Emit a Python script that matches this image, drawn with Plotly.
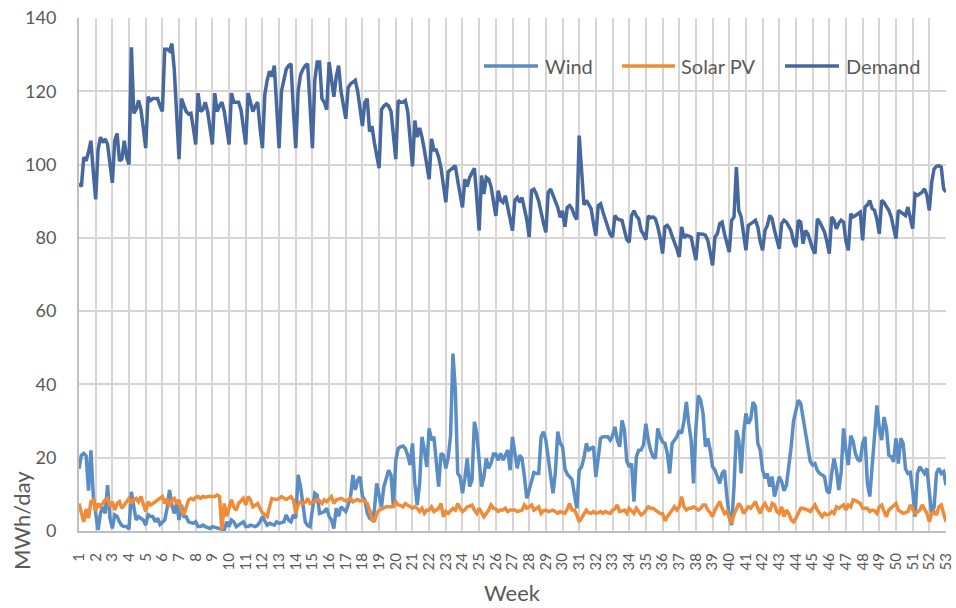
import plotly.graph_objects as go

week_labels = [str(i) for i in range(1, 54)]

# Daily values (MWh/day), one row per week (7 days), last row = final day
demand_rows = [
    [95, 94, 102, 101, 103.5, 106.5, 98],
    [90.5, 104, 107.5, 106, 107, 105.5, 100],
    [95, 106.5, 108.5, 101, 101.5, 106.5, 102],
    [100, 132, 114, 115, 117.5, 115, 110],
    [104.5, 118.5, 117.5, 118, 118, 118, 116],
    [114.5, 131.5, 131.5, 131, 133, 126, 112],
    [101.5, 118, 116, 114.5, 113.8, 114, 110],
    [105.5, 119.5, 114.5, 115, 117, 114.5, 110],
    [105.5, 119.5, 114.5, 116, 117, 114.5, 110],
    [105.5, 119.5, 117, 117, 117, 115, 110],
    [105.5, 119.5, 117, 114.5, 116, 117, 110],
    [104.5, 119, 123, 125.5, 124, 127, 115],
    [104.5, 120, 123.5, 126, 127, 127.5, 115],
    [104.5, 120, 124.5, 126, 127, 127.5, 114],
    [104.5, 123, 128, 128, 118, 117, 115],
    [128, 123, 118.5, 124, 127, 120, 116],
    [112.5, 121, 122, 122.5, 123, 120, 115],
    [110.5, 117, 118, 109, 110.5, 106, 103],
    [99, 115, 116, 116.5, 116, 114.5, 108],
    [101.5, 117.5, 117, 117, 117.5, 114.5, 107],
    [99.5, 112, 107.5, 110, 107.5, 104, 100],
    [96, 107, 104, 104, 102, 99, 95],
    [89.7, 98, 98.5, 99, 99.7, 95.6, 92],
    [88.3, 96, 94, 96.5, 98, 99, 91],
    [82, 97, 92, 96.5, 96, 94, 90],
    [86, 92.9, 90.2, 89.7, 91.5, 88.3, 85],
    [82, 90.2, 91, 89.7, 91, 88, 85],
    [80.2, 92.9, 93.3, 92, 90, 86.5, 84],
    [81.5, 92.4, 93.3, 91.5, 90, 88.3, 85.6],
    [87.4, 83, 88.3, 88.8, 87.9, 86.1, 85],
    [107.9, 98, 89, 90.2, 89.3, 88, 84],
    [80.6, 88.8, 89.3, 87, 85, 82.4, 81],
    [80.2, 86.1, 85.2, 85, 84.7, 82, 79.5],
    [78.8, 86.1, 87.4, 86, 85.2, 82, 81],
    [79.5, 86, 85.5, 85.7, 85.2, 83, 80],
    [75.7, 83, 83.4, 82.5, 80.5, 78.9, 77],
    [74.8, 83, 80, 80.7, 80.5, 80.2, 77],
    [73.9, 81.1, 81.1, 81, 80.7, 79.3, 76],
    [72.5, 80.2, 81.1, 83.9, 84.3, 81.1, 79],
    [76.1, 84.8, 85.7, 99.3, 87.5, 85.7, 81],
    [76.6, 83.4, 84, 84.3, 84.8, 82.9, 79],
    [76.6, 82, 83.4, 86.1, 85.2, 82, 79],
    [77, 83.9, 84.8, 84.3, 83, 82, 79],
    [77.5, 84.8, 84.3, 78.4, 82, 81.1, 79],
    [77, 75.7, 85.2, 84.3, 83, 81.6, 79],
    [75.7, 85.7, 84.8, 82.5, 84, 84.8, 84.3],
    [79, 76.6, 86.6, 85.7, 86.1, 86.5, 87],
    [79.3, 88.4, 89, 90.2, 88, 87.5, 85],
    [81.1, 90.2, 89.7, 88.5, 87.5, 85.7, 83],
    [79.8, 87.5, 87, 86.5, 86.1, 88.4, 85],
    [82.5, 92, 91.6, 92, 92.5, 93.4, 91.6],
    [87.5, 95.2, 98.8, 99.5, 99.7, 99.3, 93.4],
    [92.5],
]

wind_rows = [
    [17, 20.7, 21.2, 20.5, 11, 22, 9.5],
    [4, 0.3, 4.8, 6.6, 4.8, 12.5, 3.5],
    [0.7, 4.4, 4, 2.5, 1.5, 1.2, 1.2],
    [0.5, 10.7, 6.6, 3, 3.9, 3.5, 3],
    [1.6, 4.4, 4, 3.9, 2.5, 3.5, 1.8],
    [2.5, 3, 6.2, 11.2, 7.1, 4.8, 7.5],
    [3, 7.1, 4, 3.9, 2.5, 2.3, 2.1],
    [2.5, 1.2, 1.2, 1.6, 1.2, 1, 0.7],
    [1.2, 1, 0.7, 0.7, 0.5, 0.3, 2.5],
    [1.2, 3, 2.5, 1.2, 1.6, 2, 2.5],
    [1.2, 1.2, 1.6, 1.4, 1.2, 1.6, 2.5],
    [3.9, 2.5, 1.6, 2.1, 1.8, 1.6, 2.5],
    [2.1, 2.3, 2.5, 4.4, 3, 2.5, 4.4],
    [3.5, 15.3, 12.1, 6.6, 2.5, 1.5, 1.2],
    [5.7, 10.3, 9.8, 4.8, 5, 5.3, 6.2],
    [4, 3, 0.7, 6.2, 4, 6.6, 6],
    [5.3, 7.1, 9.4, 15.3, 11.2, 13.9, 14.8],
    [9.4, 8.5, 5, 3.5, 3, 5.7, 13],
    [9.4, 6.6, 12.1, 14, 16.6, 15.3, 6.6],
    [19.3, 22.5, 23, 23.2, 22.5, 20.7, 18],
    [23.9, 13, 7.1, 13, 25.7, 22.1, 17.5],
    [28, 24.8, 25.7, 19.8, 12.1, 21.2, 20.7],
    [17.1, 20, 26, 48.4, 38.4, 15.7, 14.8],
    [10.3, 14.4, 19.8, 12.1, 13.9, 29.8, 26.6],
    [19.3, 12.1, 14.8, 19.8, 17.1, 18.5, 21],
    [21, 19.3, 21.2, 19.3, 20.5, 22.1, 16.6],
    [25.7, 21.2, 17.1, 20.7, 19.8, 14.8, 8.9],
    [11.2, 13.5, 16, 15.7, 15.7, 25.7, 27.1],
    [24.8, 20, 15, 10.3, 16, 27.1, 24],
    [23, 17, 15.5, 14.8, 14, 10, 6.2],
    [16.6, 17.5, 20, 23.9, 22.1, 22.5, 23],
    [14.8, 20.3, 25.3, 25.7, 25.7, 25.7, 24.8],
    [26, 28.4, 24.8, 23, 30.2, 27.5, 19],
    [17.5, 18.4, 8, 20.3, 22, 22.1, 23.5],
    [29.3, 24.8, 22, 20.3, 19.8, 28, 25.7],
    [24.3, 23.9, 21.2, 15.7, 23.9, 25, 25.7],
    [27.5, 26.6, 30, 35.2, 29.3, 24.8, 13],
    [28, 37, 35.7, 32.1, 23, 25.3, 22.1],
    [17.5, 16.6, 14.8, 13, 15.7, 16.6, 9.4],
    [3.9, 1.6, 12.1, 27.5, 24.8, 15.7, 26.6],
    [32.1, 29.3, 30.5, 35.2, 33.9, 23.9, 22.1],
    [16.6, 14.4, 15.7, 12.1, 14.8, 9.4, 12.1],
    [14.8, 13.5, 11, 12.5, 17, 23, 30],
    [33, 35.7, 34.8, 31.1, 26.6, 22.5, 19],
    [18, 18.4, 16.5, 15.7, 15.3, 14.8, 11],
    [10.3, 15.7, 19.8, 16.6, 11.2, 16.2, 28],
    [22, 18, 26, 24.5, 21, 19.5, 19],
    [24, 25.7, 13, 9.4, 18.4, 26.6, 34.3],
    [28, 24.8, 31.1, 28, 20.7, 20.3, 18.9],
    [25.3, 18.4, 25.3, 23.9, 17, 15.7, 16],
    [11, 3.9, 15.7, 17.5, 16.6, 15.7, 17.1],
    [10.3, 4.4, 6.6, 15.7, 17.1, 15.7, 16.2],
    [12.5],
]

solar_rows = [
    [7.5, 4.5, 2.5, 6, 3.5, 8, 8.5],
    [5.5, 7.5, 6.6, 7.5, 8.5, 8.9, 6.6],
    [8, 5.7, 7.5, 8, 6.2, 7, 8],
    [8.9, 7.5, 8.5, 8.9, 8, 9.4, 7.5],
    [5.3, 8, 7.1, 7.5, 8, 8.5, 8.9],
    [9.4, 7.5, 8.9, 6.6, 8.5, 8.9, 7.5],
    [8.5, 5.7, 4.4, 6.6, 8.5, 8.9, 8.5],
    [9.2, 9.4, 8.9, 9.4, 9.2, 9.4, 9.5],
    [9.4, 9.4, 9.8, 9.4, 0.3, 7.5, 4],
    [6.6, 8.5, 6.5, 5.7, 7.5, 8.2, 8.9],
    [7.1, 9.4, 8.5, 6.6, 7, 7.5, 6.2],
    [5, 4.4, 3.9, 6.6, 8.9, 8.7, 8.6],
    [8.9, 9.4, 9, 8.6, 9, 9.4, 8.5],
    [4.8, 7.1, 8, 7.5, 7.8, 8.9, 7.5],
    [7.8, 8, 8.6, 8.2, 7.5, 8.5, 8],
    [8.6, 9.4, 7.5, 8.5, 8.7, 8.9, 8.6],
    [8.2, 8.5, 8.9, 8, 8.3, 8.6, 8.2],
    [8.5, 8, 7.5, 5.7, 3.3, 2.5, 4.8],
    [5.7, 6, 6.2, 6.6, 6.6, 6.6, 6.6],
    [8, 7.1, 7, 6.6, 7.5, 7, 6.6],
    [6.2, 6.6, 6.2, 5.3, 6.2, 4.8, 5.7],
    [5.7, 6.6, 5.3, 5.7, 6.2, 7.5, 3.9],
    [5.3, 4.8, 5.5, 6.2, 5.7, 7.5, 6.2],
    [5.3, 5.8, 6.6, 6.8, 7.1, 5.7, 4.8],
    [6.2, 4.8, 3.9, 4.8, 5.7, 7.1, 6.2],
    [6, 5.3, 5.7, 5.7, 6.2, 5.3, 5.7],
    [5.7, 5.7, 5.3, 5.5, 5.7, 7.1, 6.2],
    [6.6, 7.1, 5.7, 6.2, 6.6, 4.8, 5.5],
    [5.7, 5.3, 5.5, 5.7, 5.3, 4.8, 5.3],
    [5, 4.8, 6, 7.5, 5.7, 5.7, 4.4],
    [2.5, 3.5, 4.4, 5.7, 5, 4.8, 5.3],
    [4.8, 5, 5.3, 4.8, 5.3, 5, 4.8],
    [5.7, 6, 7.1, 5.3, 5.5, 5.7, 4.8],
    [6.2, 5.5, 4.8, 6.2, 5.3, 4.4, 4.8],
    [5.7, 6.6, 6.2, 6.2, 5.7, 5.3, 4.8],
    [4.8, 2.8, 3.9, 4.8, 5.7, 6.6, 5.7],
    [6.6, 9.4, 6.6, 5.7, 6.2, 6.2, 6.6],
    [6.2, 5.7, 6.2, 7.1, 7.1, 5.7, 5],
    [3.9, 5.7, 7.1, 8, 6.2, 4.8, 5.3],
    [3.5, 2.1, 4.5, 6.2, 7.5, 6.6, 4.8],
    [5.7, 6.6, 6.2, 7, 8, 6.2, 4.8],
    [6.6, 7.5, 6.2, 5.3, 7.5, 7.1, 5.3],
    [4.8, 6.6, 3.9, 5.7, 4.8, 3, 2.5],
    [3.5, 4.8, 6.2, 6.2, 6, 5.7, 5.3],
    [6.2, 7.1, 5.7, 4.8, 3.9, 4.8, 4.4],
    [4.6, 5.3, 4.8, 6.6, 6.2, 6.6, 7.1],
    [5.7, 7.1, 6.6, 8.5, 8.3, 7.9, 7.5],
    [6.2, 6.2, 6.2, 5.3, 5.7, 5.5, 4.8],
    [6.6, 7.1, 5.3, 3.9, 5.7, 6.4, 7.1],
    [7.5, 5.7, 5.3, 4.8, 5, 5.3, 7.1],
    [5.7, 4.8, 5.2, 5.7, 7.1, 5.7, 4.8],
    [2.5, 4.8, 5.3, 4.4, 6.6, 7.1, 4.8],
    [2.5],
]

y_ticks = [0, 20, 40, 60, 80, 100, 120, 140]

demand = [v for row in demand_rows for v in row]
wind = [v for row in wind_rows for v in row]
solar = [v for row in solar_rows for v in row]
days = list(range(len(demand)))
week_pos = [7 * i for i in range(len(week_labels))]

C_WIND = "#5A8DC3"
C_SOLAR = "#EE8C3A"
C_DEMAND = "#46689F"
GRID = "#D9D4D4"
TXT = "#595959"
FONT = "Lato"
LW = 3.5

fig = go.Figure()
fig.add_trace(go.Scatter(x=days, y=wind, mode="lines", name="Wind",
                         line=dict(color=C_WIND, width=LW)))
fig.add_trace(go.Scatter(x=days, y=solar, mode="lines", name="Solar PV",
                         line=dict(color=C_SOLAR, width=LW)))
fig.add_trace(go.Scatter(x=days, y=demand, mode="lines", name="Demand",
                         line=dict(color=C_DEMAND, width=LW)))

# plot-area pixel geometry
L, R, T, B = 79, 946, 18, 531
W, H = 956, 608


def px_x(px):
    return (px - L) / (R - L)


def px_y(py):
    return (B - py) / (B - T)


fig.update_layout(
    width=W, height=H,
    margin=dict(l=L, r=W - R, t=T, b=H - B, autoexpand=False),
    plot_bgcolor="white", paper_bgcolor="white",
    showlegend=False,
    font=dict(family=FONT, color=TXT),
    xaxis=dict(range=[0, len(demand) - 1], tickmode="array", tickvals=week_pos,
               ticktext=week_labels, tickangle=-90, tickfont=dict(size=15, color=TXT),
               showgrid=True, gridcolor=GRID, gridwidth=2, zeroline=False,
               showline=True, linecolor="#BFBFBF", linewidth=2, ticks="",
               automargin=False, ticklabelstandoff=14),
    yaxis=dict(range=[0, 140], tickmode="array", tickvals=y_ticks,
               tickfont=dict(size=18, color=TXT), showgrid=True, gridcolor=GRID,
               gridwidth=2, zeroline=False, showline=True, linecolor="#BFBFBF",
               linewidth=2, ticks="", ticklabelstandoff=17, automargin=False),
)

annotations = [
    dict(text="Week", x=px_x(512), y=px_y(592), xref="paper", yref="paper",
         showarrow=False, font=dict(size=22, color=TXT, family=FONT),
         xanchor="center", yanchor="middle"),
    dict(text="MWh/day", x=px_x(21), y=px_y(521), xref="paper", yref="paper",
         showarrow=False, textangle=-90, font=dict(size=22, color=TXT, family=FONT),
         xanchor="center", yanchor="middle"),
]

legend_items = [("Wind", C_WIND, 484, 538, 543),
                ("Solar PV", C_SOLAR, 622, 675, 679),
                ("Demand", C_DEMAND, 785, 839, 844)]
shapes = []
ly = px_y(66)
for name, col, x0, x1, xt in legend_items:
    shapes.append(dict(type="line", xref="paper", yref="paper",
                       x0=px_x(x0), x1=px_x(x1), y0=ly, y1=ly,
                       line=dict(color=col, width=3.5)))
    annotations.append(dict(text=name, x=px_x(xt), y=ly, xref="paper", yref="paper",
                            showarrow=False, xanchor="left", yanchor="middle",
                            font=dict(size=20, color=TXT, family=FONT)))

fig.update_layout(annotations=annotations, shapes=shapes)

fig.write_html("out.html")
